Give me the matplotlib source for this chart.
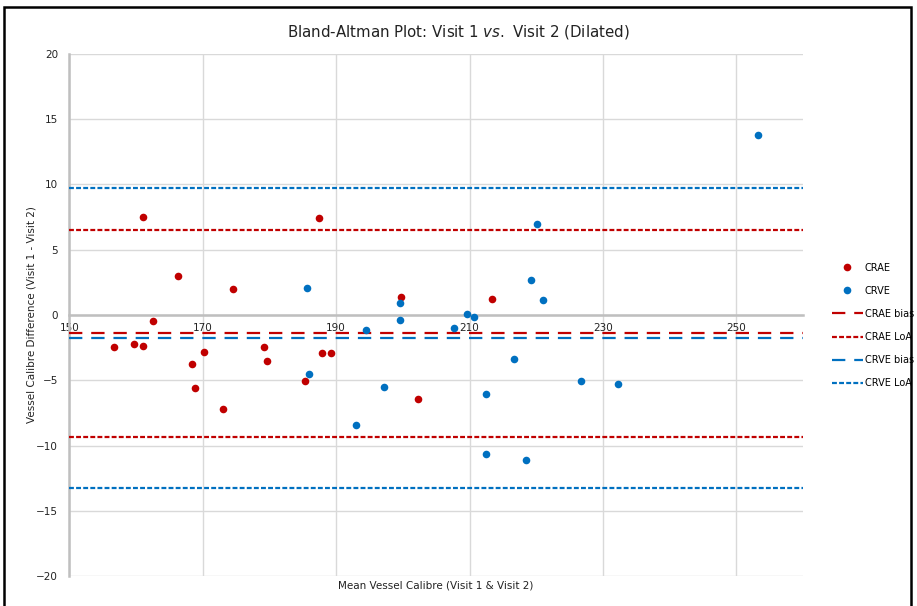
import matplotlib
matplotlib.use("Agg")
import matplotlib.pyplot as plt
from matplotlib.lines import Line2D
from matplotlib.patches import Rectangle

# Bland-Altman data: mean of the two visits (x) and the difference visit 1 - visit 2 (y)
crae_mean = [156.7, 159.66, 161.1, 162.5, 168.45, 168.8, 170.2, 173.1, 179.16, 179.6,
             185.35, 187.95, 189.2, 161.05, 166.3, 174.55, 187.4, 199.75, 202.3, 213.35]
crae_diff = [-2.47, -2.22, -2.35, -0.44, -3.77, -5.56, -2.85, -7.19, -2.45, -3.54,
             -5.07, -2.88, -2.88, 7.50, 2.98, 1.99, 7.44, 1.40, -6.43, 1.25]

crve_mean = [185.9, 193.05, 185.6, 199.56, 220.15, 219.15, 221.05, 199.56, 209.6, 210.6,
             207.7, 194.5, 216.7, 212.5, 226.65, 232.25, 212.5, 218.4, 253.25, 197.2]
crve_diff = [-4.51, -8.44, 2.09, 0.92, 6.96, 2.70, 1.15, -0.38, 0.08, -0.15,
             -1.02, -1.15, -3.39, -6.04, -5.05, -5.26, -10.61, -11.07, 13.80, -5.51]

# bias and limits of agreement
crae_bias = -1.40
crae_loa = [6.53, -9.33]
crve_bias = -1.76
crve_loa = [9.74, -13.26]

x_ticks = [150, 170, 190, 210, 230, 250]
y_ticks = [-20, -15, -10, -5, 0, 5, 10, 15, 20]

red = '#C00000'
blue = '#0070C0'

plt.rcParams['font.family'] = 'DejaVu Sans'
plt.rcParams['mathtext.fontset'] = 'custom'
plt.rcParams['mathtext.rm'] = 'DejaVu Sans'
plt.rcParams['mathtext.it'] = 'DejaVu Sans:italic'

fig = plt.figure(figsize=(9.17, 6.06), dpi=100)
ax = fig.add_axes([0.0756, 0.0488, 0.8001, 0.8628])

ax.scatter(crae_mean, crae_diff, s=30, color=red, zorder=4, linewidths=0)
ax.scatter(crve_mean, crve_diff, s=30, color=blue, zorder=4, linewidths=0)

long_dash = (0, (6, 4))
short_dash = (0, (2.2, 1))
ax.axhline(crae_bias, color=red, lw=1.6, ls=long_dash, zorder=3)
for v in crae_loa:
    ax.axhline(v, color=red, lw=1.6, ls=short_dash, zorder=3)
ax.axhline(crve_bias, color=blue, lw=1.6, ls=long_dash, zorder=3)
for v in crve_loa:
    ax.axhline(v, color=blue, lw=1.6, ls=short_dash, zorder=3)

ax.set_xlim(150, 260)
ax.set_ylim(-20, 20)
ax.set_xticks(x_ticks)
ax.set_yticks(y_ticks)
ax.grid(True, color='#D9D9D9', lw=1)
ax.set_axisbelow(True)

# x axis crosses at zero, labels sit just under it
ax.spines['bottom'].set_position(('data', 0))
for s in ['top', 'right']:
    ax.spines[s].set_visible(False)
for s in ['bottom', 'left']:
    ax.spines[s].set_color('#BFBFBF')
    ax.spines[s].set_linewidth(1.8)
    ax.spines[s].set_zorder(2)
ax.tick_params(length=0, labelsize=7.5, labelcolor='#222222')
ax.tick_params(axis='x', pad=6)
ax.tick_params(axis='y', pad=8)

ax.set_xlabel('Mean Vessel Calibre (Visit 1 & Visit 2)', fontsize=7.5, color='#222222')
ax.xaxis.set_label_coords(0.5, -0.008)
ax.set_ylabel('Vessel Calibre Difference (Visit 1 - Visit 2)', fontsize=7.5, color='#222222')
ax.yaxis.set_label_coords(-0.045, 0.5)

fig.text(0.5, 0.948, r'Bland-Altman Plot: Visit 1 $\mathit{vs.}$ Visit 2 (Dilated)',
         ha='center', va='center', fontsize=10.8, color='#222222')

handles = [
    Line2D([], [], ls='none', marker='o', ms=5.5, color=red, mew=0),
    Line2D([], [], ls='none', marker='o', ms=5.5, color=blue, mew=0),
    Line2D([], [], color=red, lw=1.6, ls=long_dash),
    Line2D([], [], color=red, lw=1.6, ls=short_dash),
    Line2D([], [], color=blue, lw=1.6, ls=long_dash),
    Line2D([], [], color=blue, lw=1.6, ls=short_dash),
]
labels = ['CRAE', 'CRVE', 'CRAE bias', 'CRAE LoA', 'CRVE bias', 'CRVE LoA']
fig.legend(handles, labels, loc='center left', bbox_to_anchor=(0.903, 0.463),
           frameon=False, fontsize=7.0, handlelength=3.2, handletextpad=0.15,
           labelspacing=1.35, borderaxespad=0)

# chart border
fig.patches.append(Rectangle((4 / 917, -0.05), 907 / 917, 1.05 - 7 / 606,
                             transform=fig.transFigure, fill=False,
                             edgecolor='black', lw=1.8))

fig.savefig('out.png', dpi=100)
